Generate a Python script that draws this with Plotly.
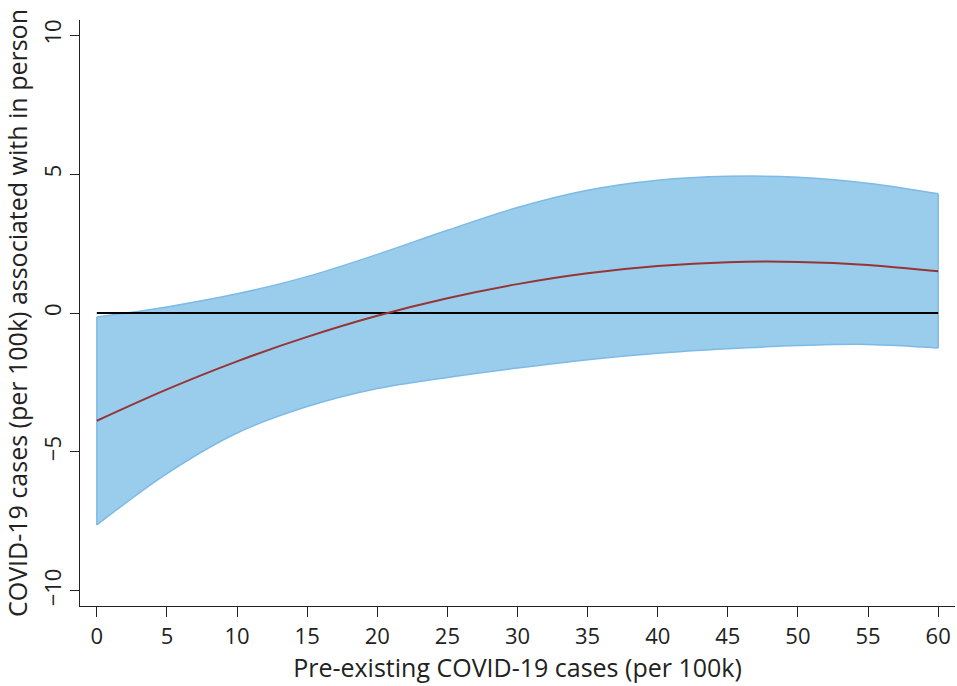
import plotly.graph_objects as go

x_vals = [0, 5, 10, 15, 20, 25, 30, 35, 40, 45, 50, 55, 60]
estimate = [-3.88, -2.75, -1.74, -0.86, -0.10, 0.53, 1.04, 1.43, 1.69, 1.83, 1.84, 1.73, 1.50]
upper = [-0.14, 0.22, 0.69, 1.31, 2.11, 2.98, 3.80, 4.42, 4.78, 4.92, 4.89, 4.67, 4.29]
lower = [-7.63, -5.78, -4.32, -3.37, -2.72, -2.32, -1.98, -1.68, -1.45, -1.29, -1.17, -1.13, -1.26]
zero_x = [0, 60]
zero_y = [0, 0]
x_ticks = [0, 5, 10, 15, 20, 25, 30, 35, 40, 45, 50, 55, 60]
y_ticks = [-10, -5, 0, 5, 10]

band_fill = "#9ACDEC"
band_edge = "#7DBAE6"

fig = go.Figure()
fig.add_trace(go.Scatter(x=x_vals, y=upper, mode="lines", line=dict(color=band_edge, width=1.5, shape="spline"),
                         showlegend=False, hoverinfo="skip"))
fig.add_trace(go.Scatter(x=x_vals, y=lower, mode="lines", line=dict(color=band_edge, width=1.5, shape="spline"),
                         fill="tonexty", fillcolor=band_fill, showlegend=False, hoverinfo="skip"))
fig.add_trace(go.Scatter(x=[x_vals[0], x_vals[0]], y=[lower[0], upper[0]], mode="lines",
                         line=dict(color=band_edge, width=1.5), showlegend=False, hoverinfo="skip"))
fig.add_trace(go.Scatter(x=[x_vals[-1], x_vals[-1]], y=[lower[-1], upper[-1]], mode="lines",
                         line=dict(color=band_edge, width=1.5), showlegend=False, hoverinfo="skip"))
fig.add_trace(go.Scatter(x=zero_x, y=zero_y, mode="lines", line=dict(color="black", width=2),
                         showlegend=False))
fig.add_trace(go.Scatter(x=x_vals, y=estimate, mode="lines", line=dict(color="#963535", width=2, shape="spline"),
                         showlegend=False))

font_family = "Open Sans"
fig.update_layout(
    width=957, height=686,
    margin=dict(l=80, r=2, t=20, b=80),
    paper_bgcolor="white", plot_bgcolor="white",
    font=dict(family=font_family, size=22, color="#222222"),
    xaxis=dict(range=[-1.2, 61.2], tickvals=x_ticks, ticks="outside", ticklen=10, tickwidth=1.2,
               tickcolor="#222222", showline=True, linecolor="#222222", linewidth=1.2,
               showgrid=False, zeroline=False, tickfont=dict(size=22),
               title=dict(text="Pre-existing COVID-19 cases (per 100k)", standoff=10,
                          font=dict(size=25))),
    yaxis=dict(range=[-10.55, 10.55], tickvals=y_ticks, ticks="outside", ticklen=9, tickwidth=1.2,
               tickcolor="#222222", showline=True, linecolor="#222222", linewidth=1.2,
               tickangle=-90, showgrid=False, zeroline=False, tickfont=dict(size=22),
               title=dict(text="COVID-19 cases (per 100k) associated with in person", standoff=4,
                          font=dict(size=25))),
)

fig.write_html("out.html")
